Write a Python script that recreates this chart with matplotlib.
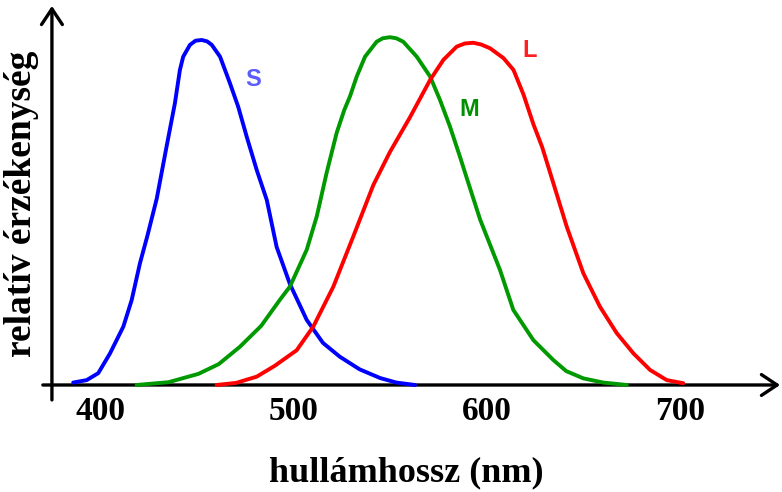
from matplotlib import pyplot as plt

# wavelength (nm) / relative sensitivity of the three cone types
s_nm = [385.6, 392.6, 398.6, 404.7, 411.6, 415.9, 420.2, 424.1, 428.9, 434.0, 438.3,
        440.9, 442.6, 446.1, 449, 452.2, 455, 457.4, 461.7, 466.8, 471.1, 475.5, 480.7,
        485.9, 491.0, 497.9, 506.6, 515.0, 523.8, 534, 544.6, 553, 562.7]
s_val = [0.007, 0.014, 0.034, 0.091, 0.168, 0.244, 0.350, 0.43, 0.536, 0.686, 0.810,
         0.906, 0.944, 0.978, 0.99, 0.992, 0.988, 0.978, 0.944, 0.868, 0.800, 0.714, 0.618,
         0.532, 0.397, 0.29, 0.187, 0.121, 0.081, 0.045, 0.020, 0.007, 0.0]

m_nm = [418.5, 435, 450.5, 461, 472.0, 483, 492.7, 497.9, 506.6, 511.8, 516.9, 522.1,
        526, 529.0, 532.5, 536.8, 542.8, 546, 549.7, 553, 556.6, 563.6, 570.5, 575.6,
        580.8, 586.0, 589.5, 596.4, 606.7, 613.6, 624.0, 634.3, 641, 649.9, 660.2, 672.4]
m_val = [0.0, 0.008, 0.032, 0.06, 0.110, 0.17, 0.245, 0.283, 0.389, 0.485, 0.610, 0.725,
         0.79, 0.830, 0.887, 0.944, 0.987, 0.997, 1.0, 0.997, 0.987, 0.944, 0.887, 0.820,
         0.743, 0.656, 0.595, 0.476, 0.331, 0.216, 0.129, 0.072, 0.04, 0.019, 0.007, 0.0]

l_nm = [459.9, 470, 480.7, 490, 501.4, 510.0, 520.4, 530.7, 541.1, 549.7, 560.1, 570.5,
        577.4, 584.3, 588.5, 592.9, 597, 601.6, 608.5, 613.7, 618.9, 624.0, 628.5, 632.7,
        641.3, 649.9, 658.5, 667.2, 675.8, 684.5, 693.1, 701.7]
l_val = [0.0, 0.006, 0.024, 0.055, 0.100, 0.168, 0.283, 0.427, 0.575, 0.670, 0.770, 0.877,
         0.935, 0.973, 0.982, 0.984, 0.979, 0.968, 0.940, 0.906, 0.835, 0.750, 0.685, 0.610,
         0.455, 0.321, 0.225, 0.149, 0.091, 0.043, 0.014, 0.005]

tick_nm = [400, 500, 600, 700]

serif = ['Liberation Serif', 'DejaVu Serif']
sans = ['Liberation Sans', 'DejaVu Sans']

fig = plt.figure(figsize=(7.82, 4.92), dpi=100)
ax = fig.add_axes([0, 0, 1, 1])
ax.axis('off')
ax.set_xlim(347.7, 752.8)
ax.set_ylim(-0.3077, 1.107)

# axes drawn as arrows
arrow = dict(arrowstyle='->,head_length=0.45,head_width=0.3', lw=2.4,
             color='black', mutation_scale=25, shrinkA=0, shrinkB=0)
ax.annotate('', xy=(751.8, 0), xytext=(369.9, 0), arrowprops=arrow, zorder=1)
ax.annotate('', xy=(374.6, 1.09), xytext=(374.6, -0.043), arrowprops=arrow, zorder=1)

for xs, ys, c in [(s_nm, s_val, '#0000ff'), (m_nm, m_val, '#009900'),
                  (l_nm, l_val, '#ff0000')]:
    ax.plot(xs, ys, color=c, lw=2.8, zorder=2,
            solid_capstyle='round', solid_joinstyle='round')

ax.text(478.8, 0.877, 'S', color='#5a5aff', fontsize=17, fontweight='bold',
        family=sans, ha='center', va='center')
ax.text(590.7, 0.791, 'M', color='#009000', fontsize=17, fontweight='bold',
        family=sans, ha='center', va='center')
ax.text(622.3, 0.963, 'L', color='#ff2020', fontsize=17, fontweight='bold',
        family=sans, ha='center', va='center')

for t in tick_nm:
    ax.text(t, -0.077, str(t), fontsize=24, fontweight='bold', family=serif,
            ha='center', va='center')

ax.text(0.52, 0.038, 'hullámhossz (nm)', transform=ax.transAxes, fontsize=26,
        fontweight='bold', family=serif, ha='center', va='center')
ax.text(0.028, 0.585, 'relatív érzékenység', transform=ax.transAxes, fontsize=27,
        fontweight='bold', family=serif, ha='center', va='center', rotation=90)

fig.savefig('out.png', dpi=100)
plt.close(fig)
